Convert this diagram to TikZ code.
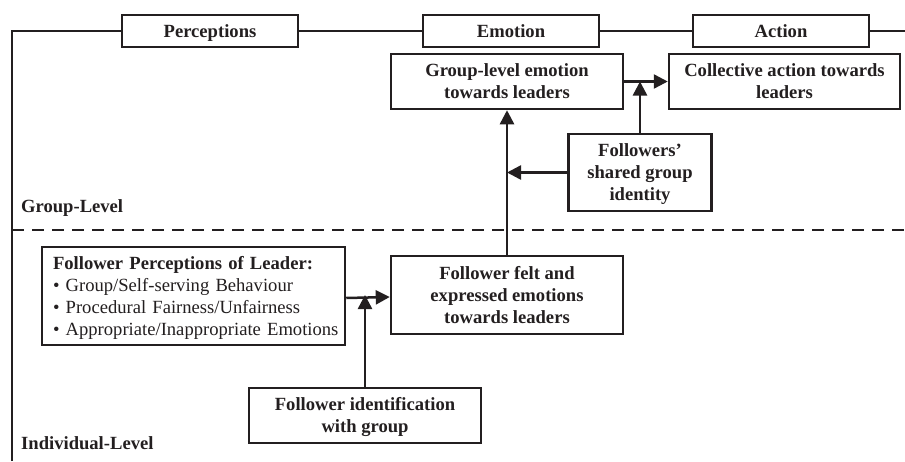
\documentclass[tikz,border=0pt]{standalone}
\usepackage{fontspec}
\setmainfont{Liberation Serif}
\usetikzlibrary{arrows.meta}
\definecolor{ink}{RGB}{35,31,32}
\newcommand{\bl}{\hspace*{11pt}}
\begin{document}
\begin{tikzpicture}[x=1pt,y=-1pt,
  every node/.style={font=\fontsize{18.6}{22}\selectfont, text=ink},
  box/.style={draw=ink, line width=2.5pt, fill=white, align=center, inner sep=0pt, font=\fontsize{18.6}{22}\selectfont\bfseries},
  stage/.style={box, minimum width=176pt, minimum height=32pt, text height=16pt, text depth=3.6pt},
  conn/.style={draw=ink, line width=2.5pt},
  arr/.style={conn, -{Triangle[length=14pt,width=14pt]}},
  lvl/.style={anchor=west, inner sep=0pt, font=\fontsize{18.6}{22}\selectfont\bfseries}
]
\useasboundingbox (0,0) rectangle (905,461);
% frame
\coordinate (fb) at (12,461);
\coordinate (fc) at (12,31);
\coordinate (fr) at (905,31);
\draw[conn] (fb) -- (fc) -- (fr);
% level divider
\coordinate (dl) at (12,230);
\coordinate (dr) at (905,230);
\draw[conn, dash pattern=on 12pt off 8pt] (dl) -- (dr);
% stage boxes
\node[stage] (perc) at (210,31) {Perceptions};
\node[stage] (emo) at (511,31) {Emotion};
\node[stage] (act) at (781,31) {Action};
% content boxes
\node[box, minimum width=232pt, minimum height=55pt] (gle) at (507,81.5) {Group-level emotion\\towards leaders};
\node[box, minimum width=231pt, minimum height=55pt] (coll) at (784.5,81.5) {Collective action towards\\leaders};
\node[box, minimum width=143pt, minimum height=77pt] (shared) at (640,172.5) {Followers’\\shared group\\identit\smash{y}};
\node[box, minimum height=98pt, text width=303pt, inner xsep=0pt, align=left, font=\fontsize{18.6}{22}\selectfont] (fpl) at (193.5,296)
  {\bl\textbf{Follower Perceptions of Leader:}\\\bl\textbullet\ Group/Self-serving Behaviour\\\bl\textbullet\ Procedural Fairness/Unfairness\\\bl\textbullet\ \smash{Appropriate/Inappropriate Emotions}};
\node[box, minimum width=232pt, minimum height=78pt] (felt) at (507,295) {Follower felt and\\expressed emotions\\towards leaders};
\node[box, minimum width=232pt, minimum height=55pt] (fid) at (365,415.5) {Follower identification\\with \smash{group}};
% level labels
\node[lvl] (gl) at (21,208) {Group-Level};
\node[lvl] (il) at (21,443) {Individual-Level};
% connectors
\draw[arr] (gle.east) -- (coll.west);
\draw[arr] (shared.north) -- (shared.north |- gle.east);
\draw[arr] (felt.north) -- (gle.south);
\draw[arr] (shared.west) -- (shared.west -| felt.north);
\draw[arr] ([yshift=-2pt]fpl.east) -- ([yshift=-2pt]felt.west);
\draw[arr] (fid.north) -- (fid.north |- felt.west);
\end{tikzpicture}
\end{document}
